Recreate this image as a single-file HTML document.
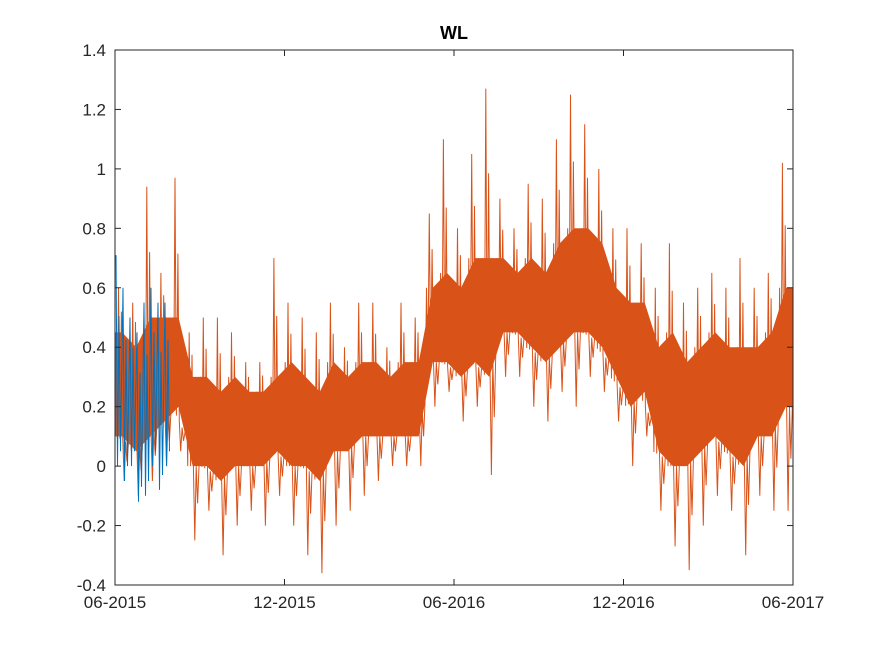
<!DOCTYPE html>
<html><head><meta charset="utf-8"><style>
body{margin:0;background:#fff}
svg{display:block;font-family:"Liberation Sans",sans-serif}
</style></head><body>
<svg id="chart" width="875" height="656" viewBox="0 0 875 656">
<rect width="875" height="656" fill="#fff"/>
<text x="454" y="39" text-anchor="middle" font-size="18" font-weight="bold" fill="#000">WL</text>
<g id="plot"></g>
</svg>
<script>
const xTickLabels=["06-2015","12-2015","06-2016","12-2016","06-2017"];
const yTickValues=[-0.4,-0.2,0,0.2,0.4,0.6,0.8,1,1.2,1.4];
const yTickLabels=["-0.4","-0.2","0","0.2","0.4","0.6","0.8","1","1.2","1.4"];
const orangeMin=[-0.05,-0.1,-0.05,0.0,0.05,-0.25,-0.15,-0.3,-0.2,-0.15,-0.2,-0.1,-0.2,-0.3,-0.36,-0.2,-0.15,-0.1,-0.05,0.0,0.0,0.0,0.2,0.25,0.15,0.2,-0.03,0.3,0.3,0.2,0.15,0.25,0.2,0.3,0.25,0.15,0.0,0.1,-0.15,-0.27,-0.35,-0.2,-0.1,-0.15,-0.3,-0.1,-0.15,-0.15];
const orangeMax=[0.6,0.55,0.94,0.65,0.97,0.45,0.5,0.5,0.45,0.35,0.35,0.7,0.55,0.5,0.45,0.55,0.4,0.55,0.55,0.4,0.55,0.5,0.85,1.1,0.8,1.05,1.27,0.9,0.8,0.95,0.9,1.1,1.25,1.15,1.0,0.8,0.8,0.75,0.6,0.75,0.55,0.6,0.65,0.6,0.7,0.6,0.65,1.02];
const orangeLo=[0.1,0.05,0.1,0.15,0.2,0.0,0.0,-0.05,0.0,0.0,0.0,0.05,0.0,0.0,-0.05,0.05,0.05,0.1,0.1,0.1,0.1,0.1,0.35,0.35,0.3,0.35,0.3,0.45,0.45,0.4,0.35,0.4,0.45,0.45,0.4,0.3,0.2,0.25,0.05,0.0,0.0,0.05,0.1,0.05,0.0,0.1,0.1,0.2];
const orangeHi=[0.45,0.4,0.5,0.5,0.5,0.3,0.3,0.25,0.3,0.25,0.25,0.3,0.35,0.3,0.25,0.35,0.3,0.35,0.35,0.3,0.35,0.35,0.6,0.65,0.6,0.7,0.7,0.7,0.65,0.7,0.65,0.75,0.8,0.8,0.75,0.6,0.55,0.55,0.4,0.45,0.35,0.4,0.45,0.4,0.4,0.4,0.45,0.6];
const blueMin=[0.0,-0.05,0.0,-0.12,-0.1,0.0,-0.08,0.0];
const blueMax=[0.71,0.6,0.5,0.45,0.55,0.6,0.55,0.55];

const X0=115,X1=793,Y0=585,Y1=50;
const yS=v=>Y0-(v-(-0.4))/(1.8)*(Y0-Y1);
const xMonth=m=>X0+m/24*(X1-X0);
const NS="http://www.w3.org/2000/svg";
const g=document.getElementById('plot');
function mk(t,a){const e=document.createElementNS(NS,t);for(const k in a)e.setAttribute(k,a[k]);return e;}

const nBins=orangeMin.length;
const bw=(X1-X0)/nBins;
const bbw=7;
let bp=[];
for(let i=0;i<blueMin.length;i++){
  const x=X0+i*bbw;
  bp.push([x+1,blueMax[i]],[x+2.5,blueMin[i]],[x+4,(blueMax[i]+blueMin[i])/2+0.15],[x+5.5,blueMin[i]+0.05]);
}
let bandTop=[],bandBot=[];
for(let i=0;i<nBins;i++){
  const cx=X0+(i+0.5)*bw;
  bandTop.push(`${cx.toFixed(1)},${yS(orangeHi[i]).toFixed(1)}`);
  bandBot.unshift(`${cx.toFixed(1)},${yS(orangeLo[i]).toFixed(1)}`);
}
bandTop.unshift(`${X0},${yS(orangeHi[0]).toFixed(1)}`);
bandTop.push(`${X1},${yS(orangeHi[nBins-1]).toFixed(1)}`);
bandBot.unshift(`${X1},${yS(orangeLo[nBins-1]).toFixed(1)}`);
bandBot.push(`${X0},${yS(orangeLo[0]).toFixed(1)}`);
const bandEl=mk('polygon',{points:bandTop.join(" ")+" "+bandBot.join(" "),fill:'#D95319'});


g.appendChild(bandEl);
let pts=[];
const lerp=(a,b,t)=>a+(b-a)*t;
for(let i=0;i<nBins;i++){
  const x=X0+i*bw;
  const nx=Math.min(i+1,nBins-1);
  const sub=10;
  for(let k=0;k<sub;k++){
    const t=k/sub;
    const lo=lerp(orangeLo[i],orangeLo[nx],t*0.5), hi=lerp(orangeHi[i],orangeHi[nx],t*0.5);
    let v;
    if(k===2)v=orangeMax[i];
    else if(k===6)v=orangeMin[i];
    else if(k===4)v=(hi+orangeMax[i])/2;
    else if(k===8)v=(lo+orangeMin[i])/2;
    else v=(k%2?lo:hi);
    pts.push([x+bw*(k+0.5)/sub,v]);
  }
}
const oLine=mk('polyline',{points:pts.map(p=>p[0].toFixed(1)+","+yS(p[1]).toFixed(1)).join(" "),fill:'none',stroke:'#D95319','stroke-width':1});


g.appendChild(oLine);

const bLine=mk('polyline',{points:bp.map(p=>p[0].toFixed(1)+","+yS(p[1]).toFixed(1)).join(" "),fill:'none',stroke:'#0072BD','stroke-width':1});


g.appendChild(bLine);

const box=mk('rect',{x:X0,y:Y1,width:X1-X0,height:Y0-Y1,fill:'none',stroke:'#262626','stroke-width':1});


g.appendChild(box);

yTickValues.forEach((v,i)=>{
  const y=yS(v);
  g.appendChild(mk('line',{x1:X0,x2:X0+6,y1:y,y2:y,stroke:'#262626'}));
  g.appendChild(mk('line',{x1:X1,x2:X1-6,y1:y,y2:y,stroke:'#262626'}));
  const t=mk('text',{x:X0-9,y:y+6,'text-anchor':'end','font-size':17,fill:'#262626'});
  
  
  t.textContent=yTickLabels[i];g.appendChild(t);
});
xTickLabels.forEach((l,i)=>{
  const x=xMonth(i*6);
  g.appendChild(mk('line',{x1:x,x2:x,y1:Y0,y2:Y0-6,stroke:'#262626'}));
  g.appendChild(mk('line',{x1:x,x2:x,y1:Y1,y2:Y1+6,stroke:'#262626'}));
  const t=mk('text',{x:x,y:Y0+23,'text-anchor':'middle','font-size':17,fill:'#262626'});
  
  
  t.textContent=l;g.appendChild(t);
});
</script>
</body></html>
